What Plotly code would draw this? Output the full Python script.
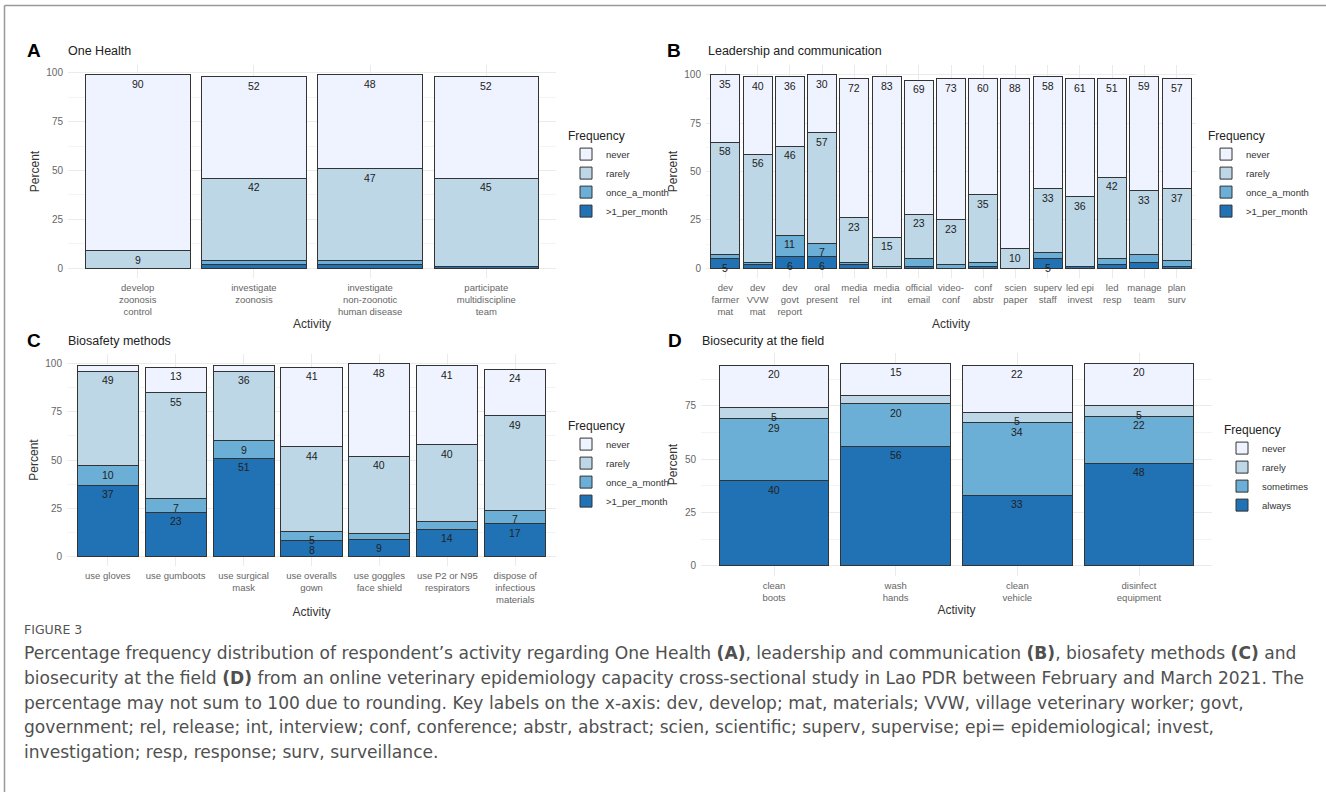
import plotly.graph_objects as go

W, H = 1326, 796

# ---------------- DATA ----------------
# Panel A: One Health
a_cats = ["develop<br>zoonosis<br>control", "investigate<br>zoonosis",
          "investigate<br>non-zoonotic<br>human disease", "participate<br>multidiscipline<br>team"]
a_gt1 = [0, 2, 2, 1]
a_once = [0, 2, 2, 0]
a_rarely = [9, 42, 47, 45]
a_never = [90, 52, 48, 52]

# Panel B: Leadership and communication
b_cats = ["dev<br>farmer<br>mat", "dev<br>VVW<br>mat", "dev<br>govt<br>report", "oral<br>present",
          "media<br>rel", "media<br>int", "official<br>email", "video-<br>conf", "conf<br>abstr",
          "scien<br>paper", "superv<br>staff", "led epi<br>invest", "led<br>resp", "manage<br>team",
          "plan<br>surv"]
b_gt1 = [5, 2, 6, 6, 2, 0, 1, 0, 1, 0, 5, 1, 2, 3, 1]
b_once = [2, 1, 11, 7, 1, 1, 4, 2, 2, 0, 3, 0, 3, 4, 3]
b_rarely = [58, 56, 46, 57, 23, 15, 23, 23, 35, 10, 33, 36, 42, 33, 37]
b_never = [35, 40, 36, 30, 72, 83, 69, 73, 60, 88, 58, 61, 51, 59, 57]

# Panel C: Biosafety methods
c_cats = ["use gloves", "use gumboots", "use surgical<br>mask", "use overalls<br>gown",
          "use goggles<br>face shield", "use P2 or N95<br>respirators",
          "dispose of<br>infectious<br>materials"]
c_gt1 = [37, 23, 51, 8, 9, 14, 17]
c_once = [10, 7, 9, 5, 3, 4, 7]
c_rarely = [49, 55, 36, 44, 40, 40, 49]
c_never = [3, 13, 3, 41, 48, 41, 24]

# Panel D: Biosecurity at the field
d_cats = ["clean<br>boots", "wash<br>hands", "clean<br>vehicle", "disinfect<br>equipment"]
d_always = [40, 56, 33, 48]
d_sometimes = [29, 20, 34, 22]
d_rarely = [5, 4, 5, 5]
d_never = [20, 15, 22, 20]

freq4 = ["never", "rarely", "once_a_month", ">1_per_month"]
freqD = ["never", "rarely", "sometimes", "always"]
blues = ["#EFF3FF", "#BDD7E7", "#6BAED6", "#2171B5"]

# ---------------- HELPERS ----------------
def px(x):
    return x / W

def py(y):
    return 1 - y / H

FONT = "Liberation Sans, Arial, sans-serif"
fig = go.Figure()
annotations = []

def add_panel(idx, cats, series, names, letter, title, xdom, ydom, yrange, yticks,
              legpos, letterx, titlex, titley):
    sfx = "" if idx == 1 else str(idx)
    xa, ya = "x" + sfx, "y" + sfx
    leg = "legend" + sfx
    # series given bottom->top, names/colours given top->bottom
    cum = [0] * len(cats)
    for k, vals in enumerate(series):
        col = blues[len(series) - 1 - k]
        nm = names[len(series) - 1 - k]
        fig.add_trace(go.Bar(
            x=cats, y=vals, name=nm, marker=dict(color=col, line=dict(color="#333333", width=1)),
            width=0.9, xaxis=xa, yaxis=ya, legend=leg, hoverinfo="skip"))
        for i, v in enumerate(vals):
            cum[i] += v
            if v >= 5:
                annotations.append(dict(
                    x=cats[i], y=cum[i], xref=xa, yref=ya, text=str(v), showarrow=False,
                    yanchor="middle", yshift=-9, font=dict(size=10.5, color="#222222", family=FONT)))
    n = len(cats)
    fig.layout["xaxis" + sfx] = dict(
        domain=[px(xdom[0]), px(xdom[1])], anchor=ya, type="category",
        range=[-0.6, n - 0.4], showgrid=True, gridcolor="#EBEBEB", gridwidth=1,
        ticks="", tickangle=0, tickfont=dict(size=9.5, color="#666666", family=FONT), zeroline=False,
        showline=False, ticklabelstandoff=2,
        title=dict(text="Activity", font=dict(size=12, color="#333333", family=FONT), standoff=3))
    fig.layout["yaxis" + sfx] = dict(
        domain=[py(ydom[1]), py(ydom[0])], anchor=xa, range=yrange, tickvals=yticks,
        showgrid=True, gridcolor="#EBEBEB", gridwidth=1,
        minor=dict(tickvals=[12.5, 37.5, 62.5, 87.5], showgrid=True, gridcolor="#F4F4F4", gridwidth=1),
        ticks="", tickfont=dict(size=10, color="#666666", family=FONT), zeroline=False,
        showline=False, ticklabelstandoff=4,
        title=dict(text="Percent", font=dict(size=12, color="#333333", family=FONT), standoff=4))
    fig.layout[leg] = dict(
        x=px(legpos[0]), y=py(legpos[1]), xanchor="left", yanchor="top",
        traceorder="reversed", bgcolor="rgba(0,0,0,0)", tracegroupgap=0,
        title=dict(text="Frequency", font=dict(size=12, color="#222222", family=FONT)),
        font=dict(size=9.5, color="#333333", family=FONT), itemclick=False, itemdoubleclick=False)
    annotations.append(dict(x=px(letterx), y=py(titley), xref="paper", yref="paper", text="<b>%s</b>" % letter,
                            showarrow=False, xanchor="center", yanchor="middle",
                            font=dict(size=19, color="#000000", family=FONT)))
    annotations.append(dict(x=px(titlex), y=py(titley), xref="paper", yref="paper", text=title,
                            showarrow=False, xanchor="left", yanchor="middle",
                            font=dict(size=12.5, color="#222222", family=FONT)))

add_panel(1, a_cats, [a_gt1, a_once, a_rarely, a_never], freq4, "A", "One Health",
          (68, 556), (65, 278), [-5, 104], [0, 25, 50, 75, 100], (566, 124), 34, 66, 51)
add_panel(2, b_cats, [b_gt1, b_once, b_rarely, b_never], freq4, "B", "Leadership and communication",
          (706, 1196), (65, 278), [-5, 105], [0, 25, 50, 75, 100], (1206, 124), 674, 706, 51)
add_panel(3, c_cats, [c_gt1, c_once, c_rarely, c_never], freq4, "C", "Biosafety methods",
          (67, 556), (354, 566), [-5, 105], [0, 25, 50, 75, 100], (566, 414), 34, 66, 341)
add_panel(4, d_cats, [d_always, d_sometimes, d_rarely, d_never], freqD, "D", "Biosecurity at the field",
          (701, 1212), (353, 576), [-4.75, 99.75], [0, 25, 50, 75], (1222, 418), 675, 700, 341)

# caption
CAP = "DejaVu Sans, Verdana, sans-serif"
annotations.append(dict(x=px(22), y=py(629), xref="paper", yref="paper", text="FIGURE 3",
                        showarrow=False, xanchor="left", yanchor="middle",
                        font=dict(size=12.5, color="#555555", family=CAP)))
cap_lines = [
    "Percentage frequency distribution of respondent\u2019s activity regarding One Health <b>(A)</b>, leadership and communication <b>(B)</b>, biosafety methods <b>(C)</b> and",
    "biosecurity at the field <b>(D)</b> from an online veterinary epidemiology capacity cross-sectional study in Lao PDR between February and March 2021. The",
    "percentage may not sum to 100 due to rounding. Key labels on the x-axis: dev, develop; mat, materials; VVW, village veterinary worker; govt,",
    "government; rel, release; int, interview; conf, conference; abstr, abstract; scien, scientific; superv, supervise; epi= epidemiological; invest,",
    "investigation; resp, response; surv, surveillance.",
]
for k, line in enumerate(cap_lines):
    annotations.append(dict(x=px(22), y=py(653 + 24.8 * k), xref="paper", yref="paper", text=line,
                            showarrow=False, xanchor="left", yanchor="middle",
                            font=dict(size=17.1, color="#505050", family=CAP)))

fig.update_layout(
    width=W, height=H, margin=dict(l=0, r=0, t=0, b=0),
    paper_bgcolor="white", plot_bgcolor="white", barmode="stack",
    font=dict(family=FONT),
    annotations=annotations,
    shapes=[
        dict(type="line", xref="paper", yref="paper", x0=px(4.5), x1=1, y0=py(5.5), y1=py(5.5),
             line=dict(color="#999999", width=1.5)),
        dict(type="line", xref="paper", yref="paper", x0=px(4.5), x1=px(4.5), y0=py(5.5), y1=py(792),
             line=dict(color="#999999", width=1.5)),
    ],
)

fig.write_html("out.html", include_plotlyjs=True,
               config={"displayModeBar": False, "responsive": False},
               post_script="document.body.style.margin='0';document.body.style.overflow='hidden';")
